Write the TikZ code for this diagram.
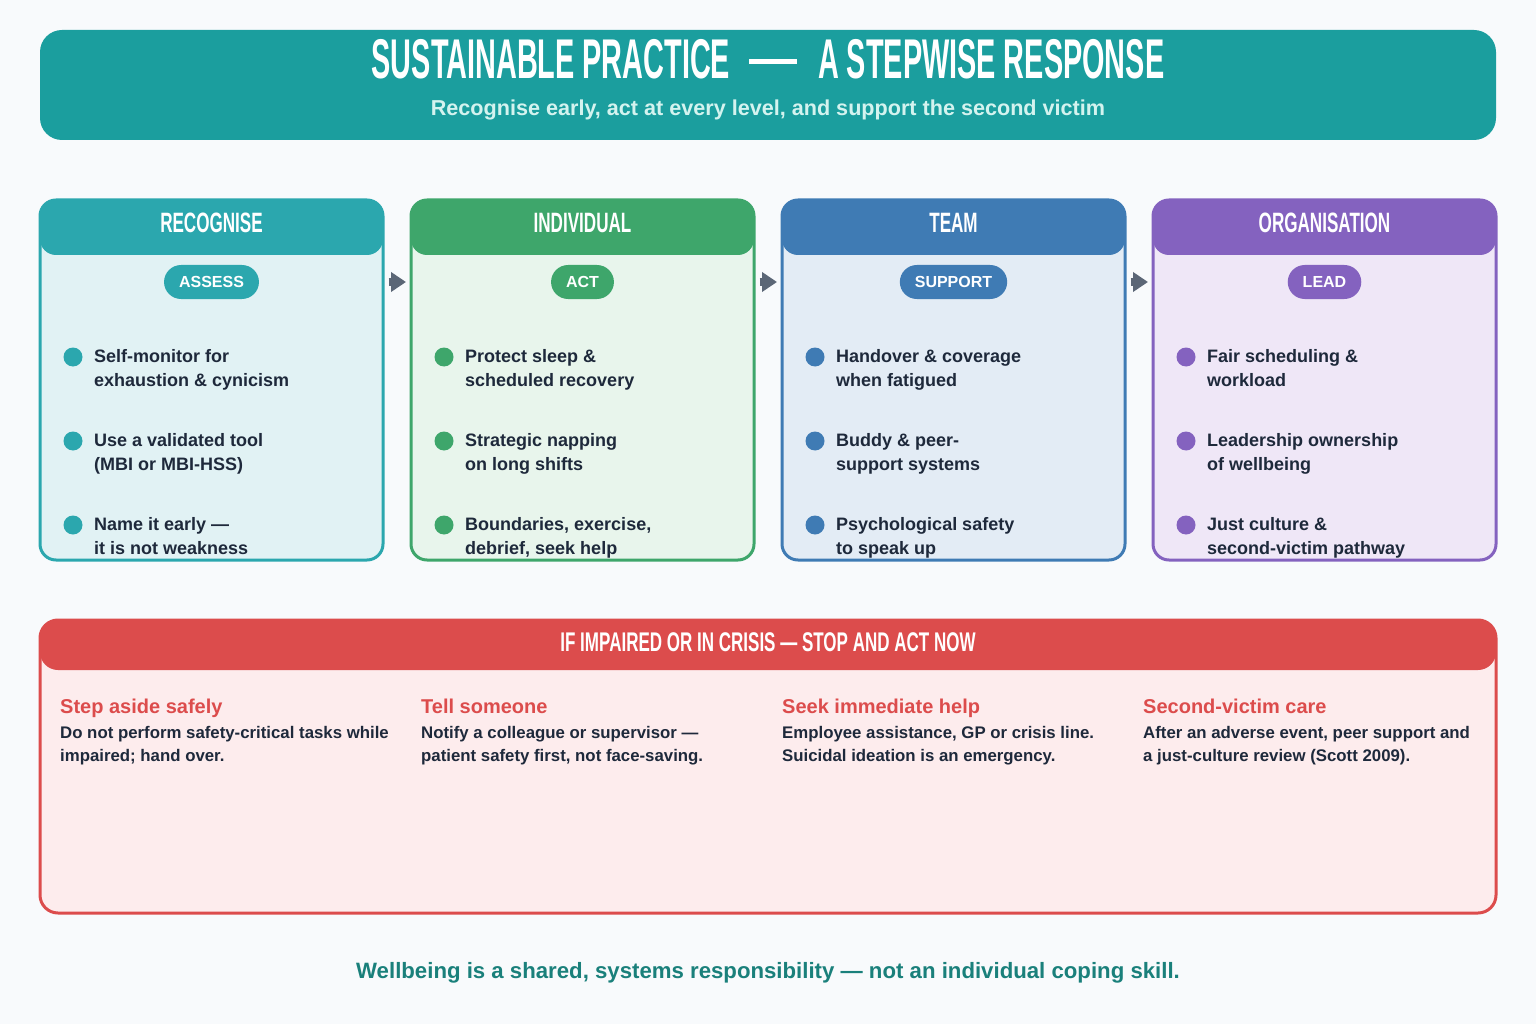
\documentclass[tikz,border=0pt]{standalone}
\usepackage{fontspec}
\setmainfont{Liberation Sans}
\newfontfamily\condT[FakeStretch=0.515]{Liberation Sans}
\newfontfamily\condH[FakeStretch=0.61]{Liberation Sans}
\newfontfamily\condC[FakeStretch=0.63]{Liberation Sans}
\usetikzlibrary{arrows.meta}
\definecolor{bgc}{HTML}{F8FAFC}
\definecolor{banner}{HTML}{1B9E9E}
\definecolor{subc}{HTML}{D4F3EF}
\definecolor{ca}{HTML}{2BA7AE}
\definecolor{cal}{HTML}{E1F2F4}
\definecolor{cb}{HTML}{3EA66B}
\definecolor{cbl}{HTML}{E8F5EC}
\definecolor{cc}{HTML}{3F7BB4}
\definecolor{ccl}{HTML}{E3ECF5}
\definecolor{cd}{HTML}{8462BF}
\definecolor{cdl}{HTML}{EFE7F7}
\definecolor{cr}{HTML}{DC4C4C}
\definecolor{crl}{HTML}{FDECED}
\definecolor{ink}{HTML}{1E293B}
\definecolor{arrg}{HTML}{5B6676}
\definecolor{foot}{HTML}{1A807B}
\begin{document}
\begin{tikzpicture}[x=1pt,y=-1pt,
  card/.style 2 args={draw=#1, fill=#2, line width=3pt, rounded corners=16pt,
    minimum width=343pt, minimum height=360pt, inner sep=0pt,
    path picture={\fill[#1] ([yshift=5pt]path picture bounding box.north west)
      rectangle ([yshift=-55pt]path picture bounding box.north east);}},
  headtxt/.style={anchor=base, inner sep=0pt, text=white, font=\condH\bfseries\fontsize{28}{28}\selectfont},
  pill/.style={fill=#1, rounded corners=17pt, minimum height=34pt, inner xsep=15pt, inner ysep=0pt,
    text=white, font=\bfseries\fontsize{16}{16}\selectfont},
  dot/.style={circle, fill=#1, minimum size=19pt, inner sep=0pt},
  btxt/.style={anchor=base west, align=left, inner sep=0pt, text=ink,
    font=\bfseries\fontsize{18}{24}\selectfont},
  arr/.style={draw=arrg, line width=8pt, -{Triangle[length=15pt,width=19pt]}},
  crtitle/.style={anchor=base west, inner sep=0pt, text=cr, font=\bfseries\fontsize{20}{24}\selectfont},
  crdesc/.style={anchor=base west, align=left, inner sep=0pt, text=ink, font=\bfseries\fontsize{16.8}{23}\selectfont}
]
\fill[bgc] (0,0) rectangle (1536,1024);
\useasboundingbox (0,0) rectangle (1536,1024);

% banner
\node[fill=banner, rounded corners=22pt, minimum width=1456pt, minimum height=110pt, inner sep=0pt] (ban) at (768,85) {};
\node[anchor=base, inner sep=0pt, text=white, font=\condT\bfseries\fontsize{56}{56}\selectfont] (title) at (768,79)
  {SUSTAINABLE PRACTICE\hspace{19pt}\raisebox{15pt}{\rule{48pt}{4.5pt}}\hspace{21pt}A STEPWISE RESPONSE};
\node[anchor=base, inner sep=0pt, text=subc, font=\bfseries\fontsize{21.6}{24}\selectfont] (sub) at (768,116)
  {Recognise early, act at every level, and support the second victim};

% cards
\node[card={ca}{cal}] (c1) at (211.5,380) {};
\node[card={cb}{cbl}] (c2) at (582.5,380) {};
\node[card={cc}{ccl}] (c3) at (953.5,380) {};
\node[card={cd}{cdl}] (c4) at (1324.5,380) {};

\node[headtxt] (h1) at (211.5,233) {RECOGNISE};
\node[headtxt] (h2) at (582.5,233) {INDIVIDUAL};
\node[headtxt] (h3) at (953.5,233) {TEAM};
\node[headtxt] (h4) at (1324.5,233) {ORGANISATION};

\node[pill=ca] (p1) at (211.5,282) {ASSESS};
\node[pill=cb] (p2) at (582.5,282) {ACT};
\node[pill=cc] (p3) at (953.5,282) {SUPPORT};
\node[pill=cd] (p4) at (1324.5,282) {LEAD};

\draw[arr] ([xshift=4pt]c1.east |- p1) -- ([xshift=-3.5pt]c2.west |- p2);
\draw[arr] ([xshift=4pt]c2.east |- p2) -- ([xshift=-3.5pt]c3.west |- p3);
\draw[arr] ([xshift=4pt]c3.east |- p3) -- ([xshift=-3.5pt]c4.west |- p4);

% column 1 (anchor = baseline of last line)
\node[dot=ca] (d11) at (73,357) {};
\node[btxt] (t11) at (94,386) {Self-monitor for\\exhaustion \& cynicism};
\node[dot=ca] (d12) at (73,441) {};
\node[btxt] (t12) at (94,470) {Use a validated tool\\(MBI or MBI-HSS)};
\node[dot=ca] (d13) at (73,525) {};
\node[btxt] (t13) at (94,554) {Name it early —\\it is not weakness};
% column 2
\node[dot=cb] (d21) at (444,357) {};
\node[btxt] (t21) at (465,386) {Protect sleep \&\\scheduled recovery};
\node[dot=cb] (d22) at (444,441) {};
\node[btxt] (t22) at (465,470) {Strategic napping\\on long shifts};
\node[dot=cb] (d23) at (444,525) {};
\node[btxt] (t23) at (465,554) {Boundaries, exercise,\\debrief, seek help};
% column 3
\node[dot=cc] (d31) at (815,357) {};
\node[btxt] (t31) at (836,386) {Handover \& coverage\\when fatigued};
\node[dot=cc] (d32) at (815,441) {};
\node[btxt] (t32) at (836,470) {Buddy \& peer-\\support systems};
\node[dot=cc] (d33) at (815,525) {};
\node[btxt] (t33) at (836,554) {Psychological safety\\to speak up};
% column 4
\node[dot=cd] (d41) at (1186,357) {};
\node[btxt] (t41) at (1207,386) {Fair scheduling \&\\workload};
\node[dot=cd] (d42) at (1186,441) {};
\node[btxt] (t42) at (1207,470) {Leadership ownership\\of wellbeing};
\node[dot=cd] (d43) at (1186,525) {};
\node[btxt] (t43) at (1207,554) {Just culture \&\\second-victim pathway};

% crisis panel
\node[draw=cr, fill=crl, line width=3pt, rounded corners=18pt, minimum width=1456pt, minimum height=293pt, inner sep=0pt,
  path picture={\fill[cr] ([yshift=5pt]path picture bounding box.north west)
      rectangle ([yshift=-50pt]path picture bounding box.north east);}] (crisis) at (768,766.5) {};
\node[anchor=base, inner sep=0pt, text=white, font=\condC\bfseries\fontsize{27}{27}\selectfont] (crh) at (768,651)
  {IF IMPAIRED OR IN CRISIS — STOP AND ACT NOW};

\node[crtitle] (k1) at (60,713) {Step aside safely};
\node[crdesc] (e1) at (60,761) {Do not perform safety-critical tasks while\\impaired; hand over.};
\node[crtitle] (k2) at (421,713) {Tell someone};
\node[crdesc] (e2) at (421,761) {Notify a colleague or supervisor —\\patient safety first, not face-saving.};
\node[crtitle] (k3) at (782,713) {Seek immediate help};
\node[crdesc] (e3) at (782,761) {Employee assistance, GP or crisis line.\\Suicidal ideation is an emergency.};
\node[crtitle] (k4) at (1143,713) {Second-victim care};
\node[crdesc] (e4) at (1143,761) {After an adverse event, peer support and\\a just-culture review (Scott 2009).};

% footer
\node[anchor=base, inner sep=0pt, text=foot, font=\bfseries\fontsize{22.2}{24}\selectfont] (ft) at (768,978)
  {Wellbeing is a shared, systems responsibility — not an individual coping skill.};
\end{tikzpicture}
\end{document}
